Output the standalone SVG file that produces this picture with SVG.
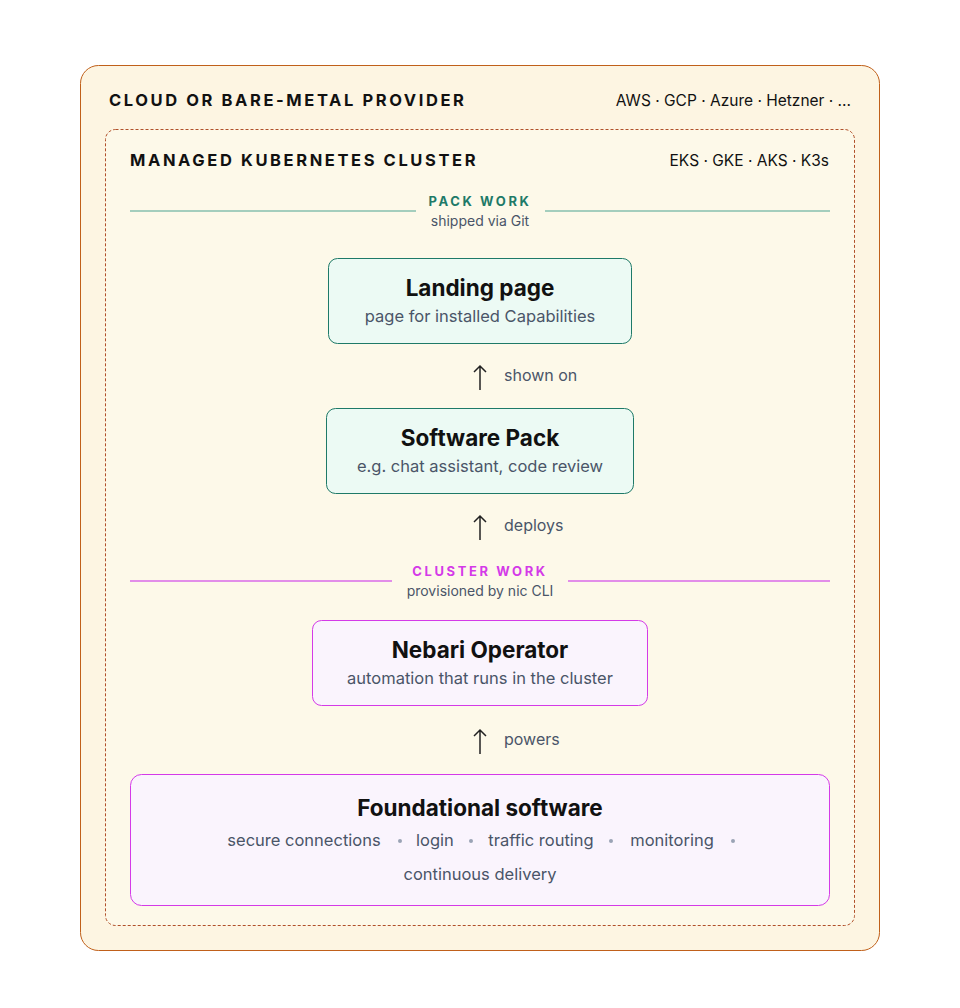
<svg xmlns="http://www.w3.org/2000/svg" width="960" height="1008" viewBox="0 0 960 1008">
<style>
.h{font-family:Inter,"Open Sans",sans-serif;font-weight:700;letter-spacing:2.6px;fill:#111}
.r{font-family:Inter,"Open Sans",sans-serif;fill:#111}
.t{font-family:Inter,"Open Sans",sans-serif;font-weight:700;font-size:22.5px;fill:#111;text-anchor:middle}
.s{font-family:Inter,"Open Sans",sans-serif;font-size:16.5px;fill:#4a5568;text-anchor:middle}
.l{font-family:Inter,"Open Sans",sans-serif;font-size:16px;fill:#4a5568}
.g{fill:#ecfaf4;stroke:#1e7a68;stroke-width:1}
.p{fill:#faf4fd;stroke:#d43ae8;stroke-width:1}
.arr{stroke:#222;stroke-width:1.5;fill:none}
</style>
<rect width="960" height="1008" fill="#fff"/>
<g id="provider">
<rect x="80.5" y="65.5" width="799" height="885" rx="18" fill="#fdf5e2" stroke="#c0601a" stroke-width="1"/>
<text x="109" y="106" class="h" font-size="16.5">CLOUD OR BARE-METAL PROVIDER</text>
<text x="851" y="106" class="r" font-size="15.5" text-anchor="end">AWS · GCP · Azure · Hetzner · ...</text>
</g>
<g id="cluster">
<rect x="105.5" y="129.5" width="749" height="796" rx="10" fill="#fdf9e9" stroke="#b0502a" stroke-width="1" stroke-dasharray="3 2"/>
<text x="130" y="166" class="h" font-size="16.5">MANAGED KUBERNETES CLUSTER</text>
<text x="829" y="166" class="r" font-size="15.5" text-anchor="end">EKS · GKE · AKS · K3s</text>
</g>
<g id="pack-work">
<line x1="130" y1="211" x2="416" y2="211" stroke="#86bfae" stroke-width="1.5"/>
<line x1="545" y1="211" x2="830" y2="211" stroke="#86bfae" stroke-width="1.5"/>
<text x="480" y="206" class="h" font-size="13" text-anchor="middle" style="fill:#1e7a68">PACK WORK</text>
<text x="480" y="226" class="s" style="font-size:14px">shipped via Git</text>
</g>
<g id="cluster-work">
<line x1="130" y1="581" x2="392" y2="581" stroke="#d96ae8" stroke-width="1.5"/>
<line x1="568" y1="581" x2="830" y2="581" stroke="#d96ae8" stroke-width="1.5"/>
<text x="480" y="576" class="h" font-size="13" text-anchor="middle" style="fill:#d43ae8">CLUSTER WORK</text>
<text x="480" y="596" class="s" style="font-size:14px">provisioned by nic CLI</text>
</g>
<g id="landing">
<rect x="328.5" y="258.5" width="303" height="85" rx="9" class="g"/>
<text x="480" y="296" class="t">Landing page</text>
<text x="480" y="322" class="s">page for installed Capabilities</text>
</g>
<g id="software-pack">
<rect x="326.5" y="408.5" width="307" height="85" rx="9" class="g"/>
<text x="480" y="446" class="t">Software Pack</text>
<text x="480" y="472" class="s">e.g. chat assistant, code review</text>
</g>
<g id="operator">
<rect x="312.5" y="620.5" width="335" height="85" rx="9" class="p"/>
<text x="480" y="658" class="t">Nebari Operator</text>
<text x="480" y="684" class="s">automation that runs in the cluster</text>
</g>
<g id="foundational">
<rect x="130.5" y="774.5" width="699" height="131" rx="11" class="p"/>
<text x="480" y="816" class="t">Foundational software</text>
<text x="304" y="846" class="s">secure connections</text>
<text x="435" y="846" class="s">login</text>
<text x="541" y="846" class="s">traffic routing</text>
<text x="672" y="846" class="s">monitoring</text>
<circle cx="400" cy="841" r="2" fill="#9aa3b5"/>
<circle cx="471" cy="841" r="2" fill="#9aa3b5"/>
<circle cx="611" cy="841" r="2" fill="#9aa3b5"/>
<circle cx="733" cy="841" r="2" fill="#9aa3b5"/>
<text x="480" y="880" class="s">continuous delivery</text>
</g>
<g id="connectors">
<path class="arr" d="M480 390V366M474 372L480 366L486 372"/>
<text x="504" y="381" class="l">shown on</text>
<path class="arr" d="M480 540V516M474 522L480 516L486 522"/>
<text x="504" y="531" class="l">deploys</text>
<path class="arr" d="M480 754V730M474 736L480 730L486 736"/>
<text x="504" y="745" class="l">powers</text>
</g>
</svg>
